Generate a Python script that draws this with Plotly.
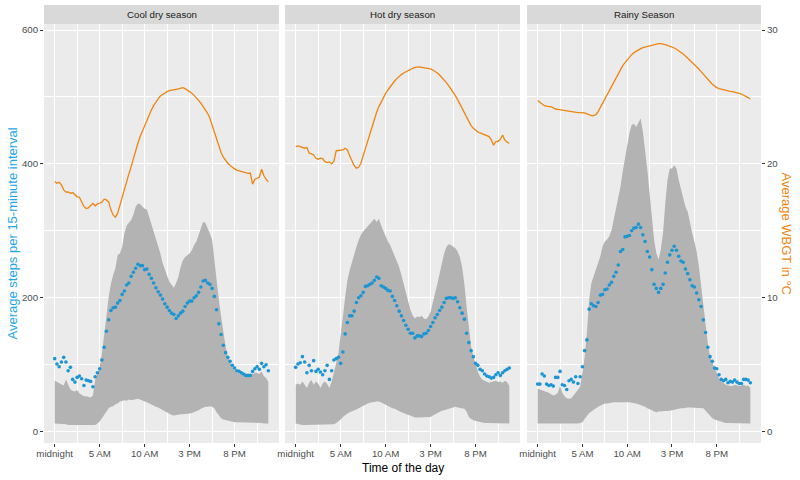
import plotly.graph_objects as go

# ---------------- data ----------------
seasons = ["Cool dry season", "Hot dry season", "Rainy Season"]
tick_vals = [0, 5, 10, 15, 20]
tick_text = ["midnight", "5 AM", "10 AM", "3 PM", "8 PM"]
hours = [i * 0.25 for i in range(96)]

cool_mean = [109,101,97,104,111,104,91,96,78,74,
             81,83,79,69,77,76,75,67,82,88,
             94,107,126,150,167,181,185,186,192,196,
             205,210,219,222,232,238,244,250,248,248,
             242,243,235,229,222,215,209,204,198,191,
             186,181,177,175,169,173,177,180,187,192,
             195,195,200,203,208,216,225,226,222,220,
             214,202,182,161,145,129,118,111,105,99,
             95,91,90,88,86,84,84,84,90,94,
             97,93,102,97,100,91]
cool_upper = [76,74,72,70,69,78,71,63,61,60,
              62,57,55,53,53,52,51,54,77,87,
              95,117,142,172,201,221,234,244,264,266,
              276,296,308,313,316,324,336,341,340,336,
              333,332,321,311,301,289,276,266,252,241,
              233,224,220,215,222,231,246,256,261,264,
              266,271,279,284,294,306,313,312,305,296,
              287,254,226,197,172,147,127,112,103,96,
              92,88,87,86,84,83,83,84,86,88,
              88,86,90,83,80,74]
cool_lower = [12,12,12,12,11,11,10,10,10,9,
              9,9,10,9,9,10,10,10,10,12,
              15,20,25,30,35,37,38,41,42,45,
              46,47,46,48,47,48,48,49,48,46,
              45,44,42,40,39,37,36,34,32,30,
              28,26,25,24,25,25,26,26,26,27,
              27,28,29,31,32,34,36,37,37,38,
              37,35,29,24,20,18,17,16,15,15,
              14,14,14,13,13,13,13,13,13,13,
              13,13,13,12,12,12]
cool_wbgt = [18.68,18.56,18.63,18.43,18.06,17.89,17.91,17.81,17.86,17.69,
             17.54,17.51,17.19,16.82,16.67,16.72,16.89,17.04,16.87,17.01,
             17.06,17.14,17.36,17.31,17.16,16.57,16.19,16.02,16.32,16.94,
             17.44,18.06,18.66,19.25,19.80,20.42,21.0,21.54,22.04,22.46,
             22.86,23.28,23.66,24.03,24.35,24.63,24.85,25.07,25.2,25.3,
             25.4,25.47,25.52,25.57,25.57,25.6,25.65,25.70,25.62,25.52,
             25.4,25.27,25.12,24.95,24.75,24.53,24.28,24.03,23.78,23.41,
             22.91,22.41,21.84,21.29,20.85,20.5,20.25,20.05,19.88,19.73,
             19.63,19.53,19.48,19.43,19.38,19.35,19.30,19.30,18.48,18.86,
             18.91,19.0,19.6,19.13,18.86,18.66]

hot_mean = [96,101,103,112,104,88,99,91,106,90,
            93,89,85,91,99,78,91,107,109,111,
            102,119,146,163,173,173,180,193,200,203,
            208,217,218,220,222,226,231,229,218,216,
            214,211,210,202,196,188,180,173,166,159,
            153,147,147,140,143,143,142,146,147,151,
            157,163,170,175,181,186,193,199,200,200,
            199,200,194,185,177,168,147,133,121,112,
            102,99,93,91,86,83,82,80,81,85,
            88,84,88,91,93,95]
hot_upper = [70,72,70,75,70,65,73,77,70,75,
             72,65,72,75,71,65,75,87,102,117,
             142,172,201,226,241,254,266,276,286,294,
             299,303,307,311,315,318,313,318,308,299,
             291,284,279,271,264,256,246,234,221,206,
             192,182,174,169,172,171,173,169,168,172,
             179,192,206,221,236,254,266,276,280,279,
             276,274,269,261,246,221,187,152,127,112,
             100,90,82,78,76,75,73,74,75,76,
             74,75,73,76,74,68]
hot_lower = [12,11,10,10,10,10,10,10,11,10,
             10,10,10,10,11,10,10,11,13,15,
             18,22,25,27,29,30,32,33,35,37,
             39,41,42,43,44,45,45,45,44,42,
             40,38,37,35,34,32,31,29,28,26,
             25,24,22,21,21,21,21,21,21,21,
             22,24,26,28,30,31,32,33,34,35,
             36,37,36,35,35,34,30,22,19,17,
             16,15,14,13,13,13,13,13,12,12,
             12,12,12,12,12,12]
hot_wbgt = [21.29,21.34,21.29,21.24,21.17,21.22,20.8,20.75,20.67,20.42,
            20.35,20.42,20.40,20.17,20.10,20.15,20.0,20.2,20.97,21.0,
            21.0,21.04,21.17,21.04,20.6,20.17,19.88,19.68,19.75,20.05,
            20.6,21.17,21.79,22.34,22.91,23.41,23.86,24.28,24.65,24.98,
            25.27,25.52,25.77,25.97,26.19,26.37,26.54,26.67,26.79,26.89,
            26.99,27.06,27.14,27.21,27.24,27.24,27.21,27.19,27.16,27.14,
            27.09,27.01,26.92,26.79,26.64,26.47,26.27,26.07,25.85,25.62,
            25.37,25.1,24.8,24.48,24.13,23.78,23.43,23.13,22.86,22.66,
            22.51,22.39,22.31,22.24,22.16,22.11,22.04,21.79,21.39,21.67,
            21.69,21.84,22.16,21.79,21.62,21.54]

rainy_mean = [71,71,86,83,71,69,70,68,81,81,
              90,70,69,63,76,78,74,82,72,82,
              97,121,137,183,191,188,187,193,204,205,
              212,213,219,223,232,238,249,269,272,291,
              292,293,300,304,305,310,305,294,284,269,
              261,242,220,214,208,214,220,237,253,264,
              271,277,271,262,255,253,243,236,227,218,
              216,207,197,187,167,148,126,112,105,95,
              94,85,78,76,78,73,75,74,77,74,
              72,72,78,78,77,73]
rainy_upper = [64,63,62,60,59,58,56,54,55,58,
               68,58,53,50,49,50,54,58,63,67,
               88,112,147,197,222,232,242,252,262,277,
               284,287,292,301,316,331,349,366,389,408,
               421,446,458,460,455,462,468,448,421,391,
               356,322,287,267,257,272,297,341,376,393,
               393,398,393,376,361,351,336,329,311,297,
               284,269,247,217,187,157,132,112,102,95,
               88,80,75,72,70,69,69,68,70,69,
               68,69,70,68,69,65]
rainy_lower = [12,12,11,11,11,11,11,11,12,12,
               12,11,11,11,11,12,12,12,12,13,
               14,19,24,28,30,33,35,37,39,40,
               42,42,43,43,44,44,44,44,45,45,
               45,44,43,43,42,41,40,39,37,35,
               34,32,30,29,30,30,30,31,31,31,
               32,33,34,35,35,35,36,36,36,36,
               36,36,35,35,35,31,27,23,20,18,
               17,15,14,14,13,13,13,13,12,12,
               12,12,12,12,12,12]
rainy_wbgt = [24.73,24.63,24.48,24.35,24.3,24.28,24.28,24.18,24.1,24.08,
              24.05,24.0,23.98,23.96,23.93,23.91,23.88,23.86,23.83,23.83,
              23.83,23.81,23.73,23.66,23.61,23.61,23.68,23.91,24.23,24.53,
              24.85,25.17,25.5,25.82,26.14,26.47,26.77,27.06,27.34,27.56,
              27.79,27.99,28.16,28.31,28.43,28.53,28.61,28.68,28.73,28.78,
              28.83,28.88,28.93,28.96,28.98,28.98,28.96,28.91,28.86,28.81,
              28.73,28.66,28.56,28.46,28.33,28.21,28.06,27.91,27.76,27.61,
              27.44,27.26,27.09,26.89,26.72,26.54,26.34,26.14,25.95,25.8,
              25.7,25.62,25.57,25.52,25.47,25.45,25.42,25.4,25.37,25.32,
              25.27,25.22,25.15,25.05,24.95,24.85]

means = [cool_mean, hot_mean, rainy_mean]
uppers = [cool_upper, hot_upper, rainy_upper]
lowers = [cool_lower, hot_lower, rainy_lower]
wbgts = [cool_wbgt, hot_wbgt, rainy_wbgt]

# ---------------- styling ----------------
FONT = "Liberation Sans, Arial, sans-serif"
BLUE_DOT = "#1B95D4"
BLUE_TXT = "#1EA6E6"
ORANGE = "#EE8511"
RIBBON = "#B3B3B3"
PANEL_BG = "#EBEBEB"
STRIP_BG = "#D9D9D9"
TICKSZ = 9.7

W, H = 800, 480
ML, MR, MT, MB = 44, 39, 24, 37
PW, PH = W - ML - MR, H - MT - MB
panels_px = [(44, 279), (285, 520), (527, 761)]
domains = [((a - ML) / PW, (b - ML) / PW) for a, b in panels_px]

Y_RANGE = [-17, 609]
SCALE = 20.0
X_RANGE = [-1.1875, 24.9375]

fig = go.Figure()

for k in range(3):
    xa = "x" if k == 0 else f"x{k+1}"
    ya = "y" if k == 0 else f"y{k+1}"
    ya2 = f"y{k+4}"
    fig.add_trace(go.Scatter(x=hours, y=lowers[k], mode="lines", line=dict(width=0, color=RIBBON),
                             xaxis=xa, yaxis=ya, showlegend=False, hoverinfo="skip"))
    fig.add_trace(go.Scatter(x=hours, y=uppers[k], mode="lines", line=dict(width=0, color=RIBBON),
                             fill="tonexty", fillcolor=RIBBON,
                             xaxis=xa, yaxis=ya, showlegend=False, hoverinfo="skip"))
    fig.add_trace(go.Scatter(x=hours, y=means[k], mode="markers",
                             marker=dict(size=3.6, color=BLUE_DOT, line=dict(width=0)),
                             xaxis=xa, yaxis=ya, showlegend=False))
    fig.add_trace(go.Scatter(x=hours, y=wbgts[k], mode="lines",
                             line=dict(width=1.3, color=ORANGE),
                             xaxis=xa, yaxis=ya2, showlegend=False))

layout = dict(
    width=W, height=H,
    margin=dict(l=ML, r=MR, t=MT, b=MB, autoexpand=False),
    paper_bgcolor="white", plot_bgcolor=PANEL_BG,
    font=dict(family=FONT, size=TICKSZ, color="#4D4D4D"),
    showlegend=False,
)

for k in range(3):
    xkey = "xaxis" if k == 0 else f"xaxis{k+1}"
    ykey = "yaxis" if k == 0 else f"yaxis{k+1}"
    y2key = f"yaxis{k+4}"
    xa = "x" if k == 0 else f"x{k+1}"
    ya = "y" if k == 0 else f"y{k+1}"
    layout[xkey] = dict(
        domain=list(domains[k]), anchor=ya, range=X_RANGE, automargin=False,
        tickmode="array", tickvals=tick_vals, ticktext=tick_text,
        ticks="outside", ticklen=3, tickwidth=1, tickcolor="#333333",
        ticklabelstandoff=-2,
        tickfont=dict(family=FONT, size=TICKSZ, color="#4D4D4D"),
        showgrid=True, gridcolor="white", gridwidth=1.1, zeroline=False,
        showline=False,
        minor=dict(tickvals=[2.5, 7.5, 12.5, 17.5, 22.5], showgrid=True,
                   gridcolor="white", gridwidth=0.5, ticks=""),
    )
    layout[ykey] = dict(
        domain=[0, 1], anchor=xa, range=Y_RANGE, automargin=False,
        tickmode="array", tickvals=[0, 200, 400, 600],
        ticks="outside" if k == 0 else "", ticklen=3, tickwidth=1, tickcolor="#333333",
        showticklabels=(k == 0),
        tickfont=dict(family=FONT, size=TICKSZ, color="#4D4D4D"),
        showgrid=True, gridcolor="white", gridwidth=1.1, zeroline=False,
        showline=False,
        minor=dict(tickvals=[100, 300, 500], showgrid=True, gridcolor="white",
                   gridwidth=0.5, ticks=""),
    )
    layout[y2key] = dict(
        overlaying=ya, anchor=xa, side="right", automargin=False,
        range=[Y_RANGE[0] / SCALE, Y_RANGE[1] / SCALE],
        tickmode="array", tickvals=[0, 10, 20, 30],
        showgrid=False, zeroline=False, showline=False,
        ticks="outside" if k == 2 else "", ticklen=3, tickwidth=1, tickcolor="#333333",
        showticklabels=(k == 2),
        tickfont=dict(family=FONT, size=TICKSZ, color="#4D4D4D"),
    )

fig.update_layout(**layout)

# strips
strip_top = 1 + (MT - 5) / PH
shapes = []
annotations = []
for k, (x0, x1) in enumerate(domains):
    shapes.append(dict(type="rect", xref="paper", yref="paper", x0=x0, x1=x1,
                       y0=1, y1=strip_top, fillcolor=STRIP_BG, line=dict(width=0), layer="below"))
    annotations.append(dict(text=seasons[k], xref="paper", yref="paper",
                            x=(x0 + x1) / 2, y=(1 + strip_top) / 2, showarrow=False,
                            xanchor="center", yanchor="middle",
                            font=dict(family=FONT, size=TICKSZ, color="#1A1A1A")))

annotations.append(dict(text="Average steps per 15-minute interval", xref="paper", yref="paper",
                        x=(12 - ML) / PW, y=0.5, textangle=-90, showarrow=False,
                        xanchor="center", yanchor="middle",
                        font=dict(family=FONT, size=13, color=BLUE_TXT)))
annotations.append(dict(text="Average WBGT in °C", xref="paper", yref="paper",
                        x=(786 - ML) / PW, y=0.5, textangle=90, showarrow=False,
                        xanchor="center", yanchor="middle",
                        font=dict(family=FONT, size=13, color=ORANGE)))
annotations.append(dict(text="Time of the day", xref="paper", yref="paper",
                        x=(402.5 - ML) / PW, y=-(467.5 - (H - MB)) / PH, showarrow=False,
                        xanchor="center", yanchor="middle",
                        font=dict(family=FONT, size=12, color="#000000")))

fig.update_layout(shapes=shapes, annotations=annotations)

fig.write_html("out.html",
               config={"displayModeBar": False},
               post_script="document.body.style.margin='0';document.body.style.overflow='hidden';")
